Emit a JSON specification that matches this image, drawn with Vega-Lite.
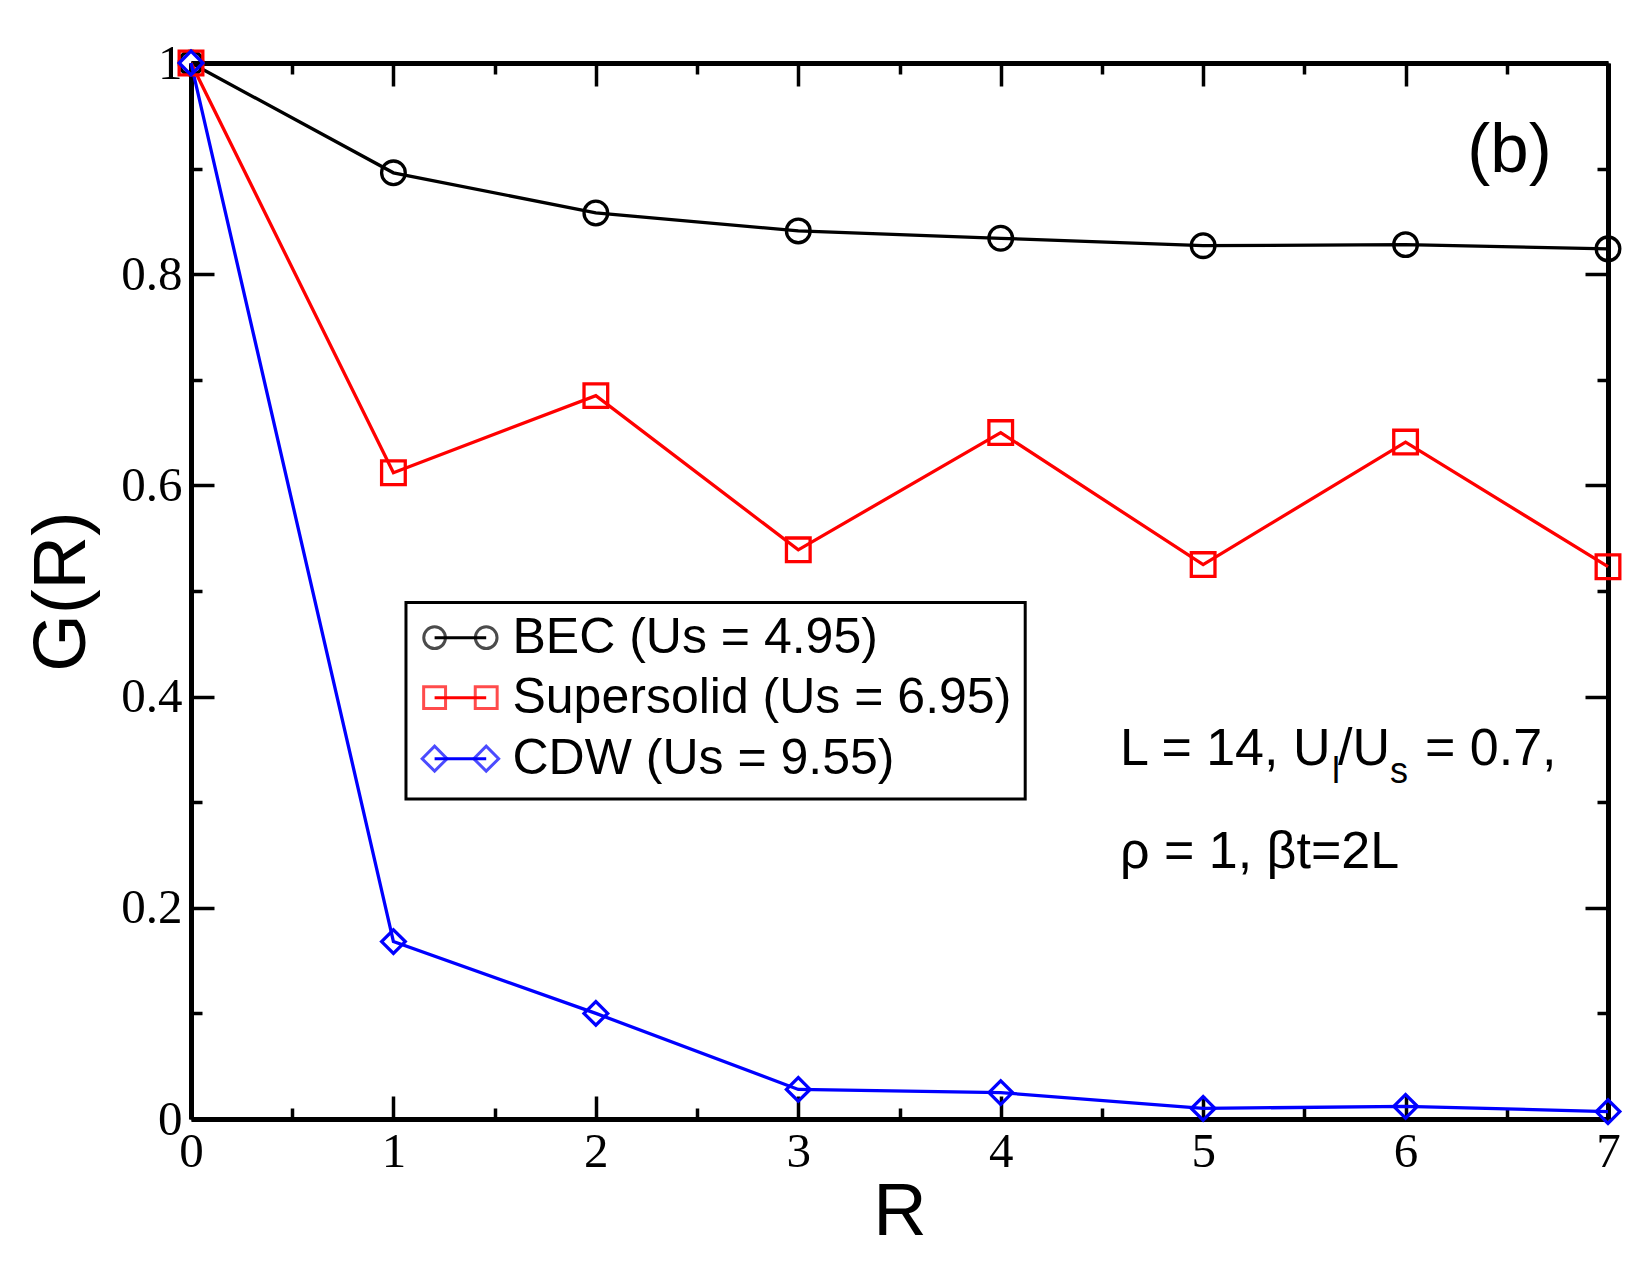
{
  "$schema": "https://vega.github.io/schema/vega-lite/v6.json",
  "width": 1417,
  "height": 1056,
  "autosize": {"type": "none"},
  "padding": {"left": 191, "top": 63, "right": 42, "bottom": 156},
  "background": "white",
  "config": {
    "view": {"stroke": null},
    "axis": {
      "grid": false,
      "domainColor": "black",
      "domainWidth": 5,
      "tickColor": "black",
      "tickWidth": 3.5,
      "labelFont": "Liberation Serif",
      "labelFontSize": 49,
      "labelColor": "black",
      "titleFont": "Liberation Sans",
      "titleFontSize": 74,
      "titleFontWeight": "normal",
      "titleColor": "black"
    }
  },
  "datasets": {
    "curves": [
      {"series": "BEC", "R": 0, "G": 1.0},
      {"series": "BEC", "R": 1, "G": 0.896},
      {"series": "BEC", "R": 2, "G": 0.858},
      {"series": "BEC", "R": 3, "G": 0.841},
      {"series": "BEC", "R": 4, "G": 0.834},
      {"series": "BEC", "R": 5, "G": 0.827},
      {"series": "BEC", "R": 6, "G": 0.828},
      {"series": "BEC", "R": 7, "G": 0.824},
      {"series": "Supersolid", "R": 0, "G": 1.0},
      {"series": "Supersolid", "R": 1, "G": 0.612},
      {"series": "Supersolid", "R": 2, "G": 0.685},
      {"series": "Supersolid", "R": 3, "G": 0.539},
      {"series": "Supersolid", "R": 4, "G": 0.650},
      {"series": "Supersolid", "R": 5, "G": 0.525},
      {"series": "Supersolid", "R": 6, "G": 0.641},
      {"series": "Supersolid", "R": 7, "G": 0.523},
      {"series": "CDW", "R": 0, "G": 1.0},
      {"series": "CDW", "R": 1, "G": 0.168},
      {"series": "CDW", "R": 2, "G": 0.100},
      {"series": "CDW", "R": 3, "G": 0.028},
      {"series": "CDW", "R": 4, "G": 0.025},
      {"series": "CDW", "R": 5, "G": 0.010},
      {"series": "CDW", "R": 6, "G": 0.012},
      {"series": "CDW", "R": 7, "G": 0.007}
    ]
  },
  "layer": [
    {
      "layer": [
        {
          "data": {"name": "curves"},
          "mark": {"type": "line", "strokeWidth": 3.3},
          "encoding": {
            "x": {
              "field": "R", "type": "quantitative",
              "scale": {"domain": [0, 7], "nice": false, "zero": false},
              "axis": {
                "orient": "bottom",
                "title": "R",
                "values": [0, 0.5, 1, 1.5, 2, 2.5, 3, 3.5, 4, 4.5, 5, 5.5, 6, 6.5, 7],
                "labelExpr": "datum.value % 1 === 0 ? format(datum.value, 'd') : ''",
                "tickSize": {"condition": {"test": "datum.value % 1 === 0", "value": -23}, "value": -11},
                "labelPadding": 31,
                "labelFlush": false,
                "labelOverlap": false,
                "titlePadding": -12
              }
            },
            "y": {
              "field": "G", "type": "quantitative",
              "scale": {"domain": [0, 1], "nice": false},
              "axis": {
                "orient": "left",
                "title": "G(R)",
                "values": [0, 0.1, 0.2, 0.3, 0.4, 0.5, 0.6, 0.7, 0.8, 0.9, 1],
                "labelExpr": "abs(datum.value * 5 - round(datum.value * 5)) < 0.001 ? format(datum.value, '~g') : ''",
                "tickSize": {"condition": {"test": "abs(datum.value * 5 - round(datum.value * 5)) < 0.001", "value": -23}, "value": -11},
                "labelPadding": 32,
                "labelFlush": false,
                "labelOverlap": false,
                "titlePadding": 20
              }
            },
            "color": {
              "field": "series", "type": "nominal",
              "scale": {"domain": ["BEC", "Supersolid", "CDW"], "range": ["#000000", "#ff0000", "#0000ff"]},
              "legend": null
            }
          }
        },
        {
          "data": {"name": "curves"},
          "mark": {"type": "point", "filled": false, "strokeWidth": 3.3, "opacity": 1},
          "encoding": {
            "x": {"field": "R", "type": "quantitative"},
            "y": {"field": "G", "type": "quantitative"},
            "color": {"field": "series", "type": "nominal", "legend": null},
            "shape": {
              "field": "series", "type": "nominal",
              "scale": {"domain": ["BEC", "Supersolid", "CDW"], "range": ["circle", "square", "diamond"]},
              "legend": null
            },
            "size": {
              "field": "series", "type": "nominal",
              "scale": {"domain": ["BEC", "Supersolid", "CDW"], "range": [560, 560, 650]},
              "legend": null
            }
          }
        },
        {
          "data": {"values": [{}]},
          "mark": {"type": "rect", "fill": "white", "stroke": "black", "strokeWidth": 3},
          "encoding": {
            "x": {"datum": 1.062, "type": "quantitative"},
            "x2": {"datum": 4.121},
            "y": {"datum": 0.489, "type": "quantitative"},
            "y2": {"datum": 0.303}
          }
        },
        {
          "data": {"values": [{}]},
          "mark": {"type": "rule", "color": "#000000", "strokeWidth": 3},
          "encoding": {"x": {"datum": 1.2034, "type": "quantitative"}, "x2": {"datum": 1.4583}, "y": {"datum": 0.4558, "type": "quantitative"}}
        },
        {
          "data": {"values": [{}]},
          "mark": {"type": "point", "shape": "circle", "size": 470, "filled": false, "color": "#000000", "strokeWidth": 3},
          "encoding": {"x": {"datum": 1.2034, "type": "quantitative"}, "y": {"datum": 0.4558, "type": "quantitative"}}
        },
        {
          "data": {"values": [{}]},
          "mark": {"type": "point", "shape": "circle", "size": 470, "filled": false, "color": "#000000", "strokeWidth": 3},
          "encoding": {"x": {"datum": 1.4583, "type": "quantitative"}, "y": {"datum": 0.4558, "type": "quantitative"}}
        },
        {
          "data": {"values": [{}]},
          "mark": {"type": "text", "text": "BEC (Us = 4.95)", "align": "left", "baseline": "middle", "font": "Liberation Sans", "fontSize": 50, "color": "black"},
          "encoding": {"x": {"datum": 1.588, "type": "quantitative"}, "y": {"datum": 0.4558, "type": "quantitative"}}
        },
        {
          "data": {"values": [{}]},
          "mark": {"type": "rule", "color": "#ff0000", "strokeWidth": 3},
          "encoding": {"x": {"datum": 1.2034, "type": "quantitative"}, "x2": {"datum": 1.4583}, "y": {"datum": 0.399, "type": "quantitative"}}
        },
        {
          "data": {"values": [{}]},
          "mark": {"type": "point", "shape": "square", "size": 480, "filled": false, "color": "#ff0000", "strokeWidth": 3},
          "encoding": {"x": {"datum": 1.2034, "type": "quantitative"}, "y": {"datum": 0.399, "type": "quantitative"}}
        },
        {
          "data": {"values": [{}]},
          "mark": {"type": "point", "shape": "square", "size": 480, "filled": false, "color": "#ff0000", "strokeWidth": 3},
          "encoding": {"x": {"datum": 1.4583, "type": "quantitative"}, "y": {"datum": 0.399, "type": "quantitative"}}
        },
        {
          "data": {"values": [{}]},
          "mark": {"type": "text", "text": "Supersolid (Us = 6.95)", "align": "left", "baseline": "middle", "font": "Liberation Sans", "fontSize": 50, "color": "black"},
          "encoding": {"x": {"datum": 1.588, "type": "quantitative"}, "y": {"datum": 0.399, "type": "quantitative"}}
        },
        {
          "data": {"values": [{}]},
          "mark": {"type": "rule", "color": "#0000ff", "strokeWidth": 3},
          "encoding": {"x": {"datum": 1.2034, "type": "quantitative"}, "x2": {"datum": 1.4583}, "y": {"datum": 0.3412, "type": "quantitative"}}
        },
        {
          "data": {"values": [{}]},
          "mark": {"type": "point", "shape": "diamond", "size": 620, "filled": false, "color": "#0000ff", "strokeWidth": 3},
          "encoding": {"x": {"datum": 1.2034, "type": "quantitative"}, "y": {"datum": 0.3412, "type": "quantitative"}}
        },
        {
          "data": {"values": [{}]},
          "mark": {"type": "point", "shape": "diamond", "size": 620, "filled": false, "color": "#0000ff", "strokeWidth": 3},
          "encoding": {"x": {"datum": 1.4583, "type": "quantitative"}, "y": {"datum": 0.3412, "type": "quantitative"}}
        },
        {
          "data": {"values": [{}]},
          "mark": {"type": "text", "text": "CDW (Us = 9.55)", "align": "left", "baseline": "middle", "font": "Liberation Sans", "fontSize": 50, "color": "black"},
          "encoding": {"x": {"datum": 1.588, "type": "quantitative"}, "y": {"datum": 0.3412, "type": "quantitative"}}
        },
        {
          "data": {"values": [{}]},
          "mark": {"type": "text", "text": "(b)", "align": "left", "baseline": "alphabetic", "font": "Liberation Sans", "fontSize": 69, "color": "black"},
          "encoding": {"x": {"datum": 6.305, "type": "quantitative"}, "y": {"datum": 0.8968, "type": "quantitative"}}
        },
        {
          "data": {"values": [{}]},
          "mark": {"type": "text", "text": "L = 14, U", "align": "left", "baseline": "alphabetic", "font": "Liberation Sans", "fontSize": 52, "color": "black"},
          "encoding": {"x": {"datum": 4.589, "type": "quantitative"}, "y": {"datum": 0.3352, "type": "quantitative"}}
        },
        {
          "data": {"values": [{}]},
          "mark": {"type": "text", "text": "l", "align": "left", "baseline": "alphabetic", "font": "Liberation Sans", "fontSize": 36, "color": "black"},
          "encoding": {"x": {"datum": 5.637, "type": "quantitative"}, "y": {"datum": 0.3182, "type": "quantitative"}}
        },
        {
          "data": {"values": [{}]},
          "mark": {"type": "text", "text": "/U", "align": "left", "baseline": "alphabetic", "font": "Liberation Sans", "fontSize": 52, "color": "black"},
          "encoding": {"x": {"datum": 5.666, "type": "quantitative"}, "y": {"datum": 0.3352, "type": "quantitative"}}
        },
        {
          "data": {"values": [{}]},
          "mark": {"type": "text", "text": "s", "align": "left", "baseline": "alphabetic", "font": "Liberation Sans", "fontSize": 36, "color": "black"},
          "encoding": {"x": {"datum": 5.923, "type": "quantitative"}, "y": {"datum": 0.3182, "type": "quantitative"}}
        },
        {
          "data": {"values": [{}]},
          "mark": {"type": "text", "text": "= 0.7,", "align": "left", "baseline": "alphabetic", "font": "Liberation Sans", "fontSize": 52, "color": "black"},
          "encoding": {"x": {"datum": 6.096, "type": "quantitative"}, "y": {"datum": 0.3352, "type": "quantitative"}}
        },
        {
          "data": {"values": [{}]},
          "mark": {"type": "text", "text": "ρ = 1, βt=2L", "align": "left", "baseline": "alphabetic", "font": "Liberation Sans", "fontSize": 52, "color": "black"},
          "encoding": {"x": {"datum": 4.589, "type": "quantitative"}, "y": {"datum": 0.2377, "type": "quantitative"}}
        }
      ]
    },
    {
      "data": {"values": [{}]},
      "mark": {"type": "point", "opacity": 0},
      "encoding": {
        "x": {
          "datum": 0, "type": "quantitative",
          "axis": {
            "orient": "top",
            "title": null,
            "labels": false,
            "values": [0, 0.5, 1, 1.5, 2, 2.5, 3, 3.5, 4, 4.5, 5, 5.5, 6, 6.5, 7],
            "tickSize": {"condition": {"test": "datum.value % 1 === 0", "value": -23}, "value": -11}
          }
        },
        "y": {
          "datum": 0, "type": "quantitative",
          "axis": {
            "orient": "right",
            "title": null,
            "labels": false,
            "values": [0, 0.1, 0.2, 0.3, 0.4, 0.5, 0.6, 0.7, 0.8, 0.9, 1],
            "tickSize": {"condition": {"test": "abs(datum.value * 5 - round(datum.value * 5)) < 0.001", "value": -23}, "value": -11}
          }
        }
      }
    }
  ],
  "resolve": {"axis": {"x": "independent", "y": "independent"}}
}
